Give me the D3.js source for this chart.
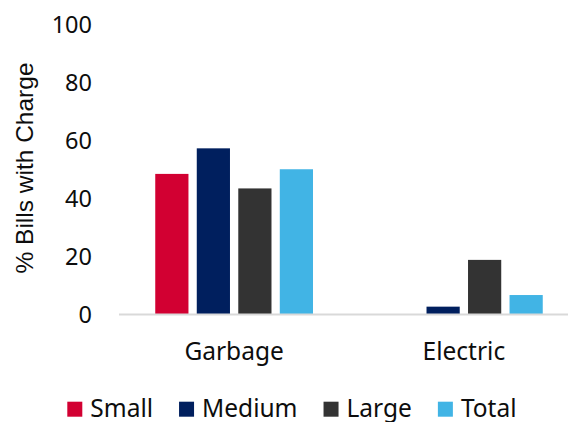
<!DOCTYPE html>
<html>
<head>
<meta charset="utf-8">
<script src="https://cdn.jsdelivr.net/npm/d3@7"></script>
<style>
  html, body { margin: 0; padding: 0; background: #fff; }
  svg { display: block; }
</style>
</head>
<body>
<svg id="chart" width="568" height="422"></svg>
<script>
// Share of bills carrying a charge, by utility and system size
const categories = ["Garbage", "Electric"];
const seriesNames = ["Small", "Medium", "Large", "Total"];
const smallValues = [48.4, 0];
const mediumValues = [57.2, 2.7];
const largeValues = [43.4, 18.8];
const totalValues = [50.0, 6.7];
const yTicks = [0, 20, 40, 60, 80, 100];
const yTitle = "% Bills with Charge";

const seriesValues = [smallValues, mediumValues, largeValues, totalValues];
const colors = ["#D20032", "#001F5E", "#333333", "#41B4E5"];

const svg = d3.select("#chart");
const labelFont = "'Noto Sans', 'Open Sans', sans-serif";
const textColor = "#0d0d0d";

const y = d3.scaleLinear().domain([0, 100]).range([314.5, 24]);
const x0 = d3.scaleBand().domain(categories).range([119.25, 578.75]).padding(0);
const inset = x0.bandwidth() * 0.1567;
const x1 = d3.scaleBand().domain(seriesNames)
  .range([inset, x0.bandwidth() - inset])
  .paddingInner(0.2).paddingOuter(0);

// Bars
const rows = categories.map((c, i) => ({
  cat: c,
  vals: seriesNames.map((s, j) => ({ s, v: seriesValues[j][i], color: colors[j] }))
}));

const groups = svg.append("g").selectAll("g").data(rows).join("g")
  .attr("transform", d => `translate(${x0(d.cat)},0)`);

groups.selectAll("rect").data(d => d.vals.filter(e => e.v > 0)).join("rect")
  .attr("x", d => x1(d.s))
  .attr("width", x1.bandwidth())
  .attr("y", d => y(d.v))
  .attr("height", d => y(0) - y(d.v))
  .attr("fill", d => d.color);

// Category axis baseline and labels
svg.append("line")
  .attr("x1", 119).attr("x2", 578.75)
  .attr("y1", y(0)).attr("y2", y(0))
  .attr("stroke", "#D9D9D9").attr("stroke-width", 2);

svg.append("g").selectAll("text").data(categories).join("text")
  .attr("x", d => x0(d) + x0.bandwidth() / 2)
  .attr("y", 360)
  .attr("text-anchor", "middle")
  .attr("font-family", labelFont)
  .attr("font-size", 24.5)
  .attr("fill", textColor)
  .text(d => d);

// Value axis (labels only)
const yAxis = d3.axisLeft(y).tickValues(yTicks).tickSize(0).tickPadding(0);
const yg = svg.append("g").attr("transform", "translate(92,0)").call(yAxis);
yg.select(".domain").remove();
yg.selectAll("text")
  .attr("font-family", labelFont)
  .attr("font-size", 23.5)
  .attr("fill", textColor)
  .attr("dy", "0.34em");

svg.append("text")
  .attr("transform", "translate(33,168) rotate(-90)")
  .attr("text-anchor", "middle")
  .attr("font-family", "'Liberation Sans', Arial, sans-serif")
  .attr("font-size", 24.5)
  .attr("fill", textColor)
  .text(yTitle);

// Legend
const legend = svg.append("g");
let lx = 67.3;
seriesNames.forEach((s, i) => {
  legend.append("rect")
    .attr("x", lx).attr("y", 401.7)
    .attr("width", 15).attr("height", 15)
    .attr("fill", colors[i]);
  const t = legend.append("text")
    .attr("x", lx + 23).attr("y", 416.5)
    .attr("font-family", labelFont)
    .attr("font-size", 24.5)
    .attr("fill", textColor)
    .text(s);
  lx = lx + 23 + t.node().getComputedTextLength() + 26;
});
</script>
</body>
</html>
